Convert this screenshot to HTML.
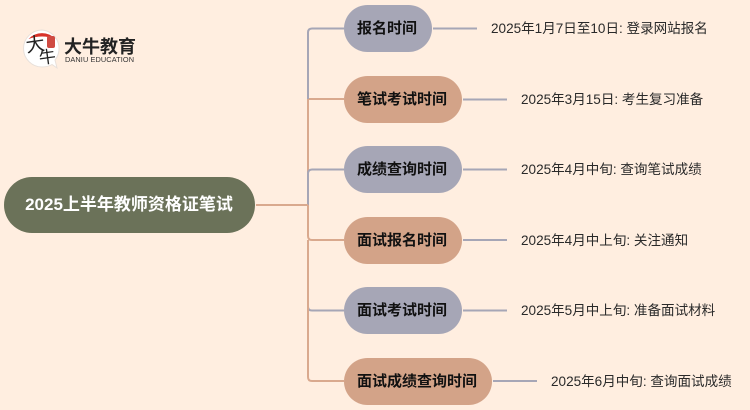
<!DOCTYPE html>
<html lang="zh">
<head>
<meta charset="utf-8">
<title>2025上半年教师资格证笔试</title>
<style>
html,body{margin:0;padding:0}
body{width:750px;height:410px;overflow:hidden;background:#ffeee0;position:relative;font-family:"Liberation Sans","Noto Sans CJK SC",sans-serif}
svg{position:absolute;left:0;top:0}
.n{position:absolute;box-sizing:border-box;height:47px;line-height:48px;border-radius:23.5px;text-align:center;font-weight:700;font-size:15px;color:#111;white-space:nowrap;padding-right:2px}
.b{background:#a6a6b6}
.s{background:#d3a388}
.root{position:absolute;left:4px;top:177px;width:251px;height:56px;line-height:55px;border-radius:28px;background:#6b7259;color:#fff;font-weight:700;font-size:17px;text-align:center;white-space:nowrap;padding-right:1px;box-sizing:border-box}
.l{position:absolute;font-size:13.55px;line-height:20px;color:#2a2a2a;white-space:nowrap}
.t{position:absolute;white-space:nowrap}
</style>
</head>
<body>
<svg width="750" height="410" viewBox="0 0 750 410" fill="none" stroke-width="2">
<path d="M308 99V205" stroke="#d9a98e"/>
<path d="M344 99H308" stroke="#d9a98e"/>
<path d="M344 28.500H312Q308 28.500 308 32.500V99" stroke="#a6a6b6"/>
<path d="M344 169.500H312Q308 169.500 308 173.500V205" stroke="#a6a6b6"/>
<path d="M344 310.500H312Q308 310.500 308 306.500" stroke="#a6a6b6"/>
<path d="M256 205H308" stroke="#d9a98e"/>
<path d="M308 205V236Q308 240 312 240H344" stroke="#d9a98e"/>
<path d="M308 240V377Q308 381 312 381H344" stroke="#d9a98e"/>
<path d="M433 28.500H477M463 99.500H507M463 169.500H507M463 240H507M463 310.500H507M493 381H537" stroke="#a6a6b6"/>
<!-- logo -->
<path d="M42 30A18.500 18.500 0 0 0 42 67Q48 67 52 64.500L57 68L55 60A18.500 18.500 0 0 0 42 30Z" fill="#fff" stroke="#e8e0da" stroke-width="1"/>
<path d="M28.500 39A18.500 18.500 0 0 1 55.500 39Q42 34 28.500 39Z" fill="#d8322a" stroke="none"/>
<rect x="47" y="36" width="8" height="12" rx="2" fill="#cf4a42"/>
</svg>

<div class="t" style="left:26px;top:36px;font-size:19px;line-height:20px;font-weight:400;color:#222;transform:rotate(-8deg)">大</div>
<div class="t" style="left:39px;top:49px;font-size:17px;line-height:18px;font-weight:400;color:#222;transform:rotate(-8deg)">牛</div>
<div class="t" style="left:64px;top:37px;font-size:18px;line-height:20px;font-weight:700;color:#222">大牛教育</div>
<div class="t" style="left:65px;top:55px;font-size:7.350px;line-height:10px;color:#333;letter-spacing:.1px">DANIU EDUCATION</div>

<div class="root">2025上半年教师资格证笔试</div>

<div class="n b" style="left:344px;top:5px;width:88px">报名时间</div>
<div class="n s" style="left:344px;top:76px;width:118px">笔试考试时间</div>
<div class="n b" style="left:344px;top:146px;width:118px">成绩查询时间</div>
<div class="n s" style="left:344px;top:217px;width:118px">面试报名时间</div>
<div class="n b" style="left:344px;top:287px;width:118px">面试考试时间</div>
<div class="n s" style="left:344px;top:358px;width:148px">面试成绩查询时间</div>

<div class="l" style="left:491px;top:19px">2025年1月7日至10日: 登录网站报名</div>
<div class="l" style="left:521px;top:90px">2025年3月15日: 考生复习准备</div>
<div class="l" style="left:521px;top:160px">2025年4月中旬: 查询笔试成绩</div>
<div class="l" style="left:521px;top:231px">2025年4月中上旬: 关注通知</div>
<div class="l" style="left:521px;top:301px">2025年5月中上旬: 准备面试材料</div>
<div class="l" style="left:551px;top:372px">2025年6月中旬: 查询面试成绩</div>
</body>
</html>
